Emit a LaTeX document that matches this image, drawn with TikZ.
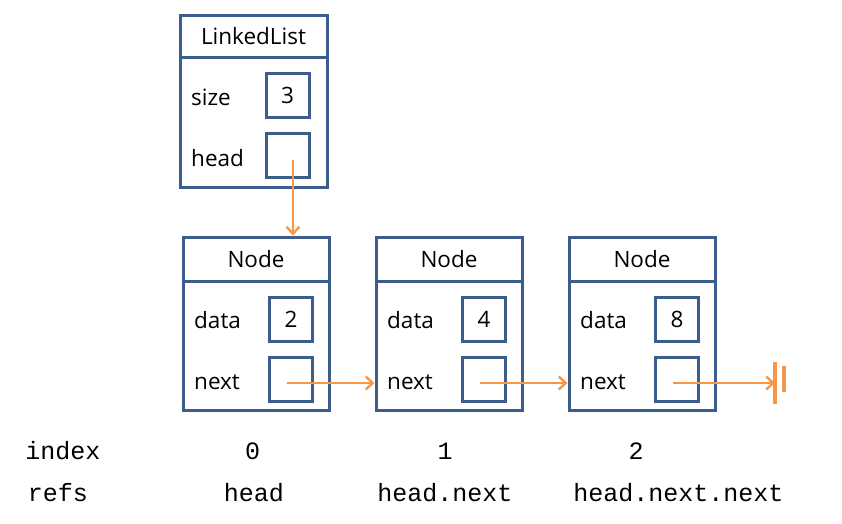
\documentclass[tikz,border=0pt]{standalone}
\usepackage{fontspec}
\setmainfont{Open Sans}
\newfontfamily\codefont{Liberation Mono}
\usetikzlibrary{arrows.meta}
\definecolor{boxblue}{HTML}{3B5E8C}
\definecolor{arrorange}{HTML}{F79646}
\tikzset{
  frame/.style={draw=boxblue, line width=3pt, inner sep=0pt, minimum width=147pt},
  divider/.style={draw=boxblue, line width=3pt},
  slot/.style={draw=boxblue, line width=3pt, inner sep=0pt, minimum width=43pt, minimum height=44pt},
  title/.style={inner sep=0pt, font=\fontsize{22.5}{26}\selectfont},
  field/.style={inner sep=0pt, anchor=west, font=\fontsize{22.5}{26}\selectfont},
  code/.style={inner sep=0pt, anchor=base, font=\codefont\fontsize{25}{30}\selectfont},
  ptr/.style={draw=arrorange, line width=2.8pt, -{Straight Barb[length=7pt,width=13pt,line width=2.4pt]}},
  nilbar/.style={draw=arrorange, line width=3.2pt}
}
\begin{document}
\begin{tikzpicture}[x=1pt,y=-1pt]
\useasboundingbox (0,0) rectangle (842,523);

% LinkedList object
\node[frame, minimum height=172pt] (ll) at (253.5,101) {};
\draw[divider] (ll.west |- 0,57) -- (ll.east |- 0,57);
\node[title] (lltitle) at (253.5,36) {LinkedList};
\node[field] (lsize) at (191,97) {size};
\node[field] (lhead) at (191,158) {head};
\node[slot] (sizebox) at (287.5,95.5) {\fontsize{22.5}{26}\selectfont 3};
\node[slot] (headbox) at (287.5,155.5) {};

% Node objects
\foreach \i/\v in {1/2,2/4,3/8}{
  \pgfmathsetmacro{\xl}{183+193*(\i-1)}
  \node[frame, minimum width=146pt, minimum height=173pt] (n\i) at (\xl+73,323.5) {};
  \draw[divider] (n\i.west |- 0,281) -- (n\i.east |- 0,281);
  \node[title] (t\i) at (\xl+73,259) {Node};
  \node[field] (dl\i) at (\xl+11,320) {data};
  \node[field] (nl\i) at (\xl+11,382) {next};
  \node[slot] (d\i) at (\xl+108,319) {\fontsize{22.5}{26}\selectfont \v};
  \node[slot] (x\i) at (\xl+108,379) {};
}

% pointers
\coordinate (hs) at ([xshift=5.5pt,yshift=-4.5pt]headbox.center);
\draw[ptr] (hs) -- (hs |- n1.north);
\coordinate (s1) at ([xshift=-4pt,yshift=-4pt]x1.center);
\draw[ptr] (s1) -- (s1 -| n2.west);
\coordinate (s2) at ([xshift=-4pt,yshift=-4pt]x2.center);
\draw[ptr] (s2) -- (s2 -| n3.west);
\coordinate (s3) at ([xshift=-4pt,yshift=-4pt]x3.center);
\coordinate (nil) at (775,383);
\draw[ptr] (s3) -- (nil);
\draw[nilbar] ([yshift=21pt]nil) -- ([yshift=-21pt]nil);
\coordinate (nil2) at (784,379);
\draw[nilbar] ([yshift=13pt]nil2) -- ([yshift=-13pt]nil2);

% index / refs rows
\node[code] (idx) at (63,459) {index};
\node[code] (i0) at (252.5,459) {0};
\node[code] (i1) at (445,459) {1};
\node[code] (i2) at (636,459) {2};
\node[code] (refs) at (58,501) {refs};
\node[code] (r0) at (254,501) {head};
\node[code] (r1) at (445,501) {head.next};
\node[code] (r2) at (678.5,501) {head.next.next};
\end{tikzpicture}
\end{document}
